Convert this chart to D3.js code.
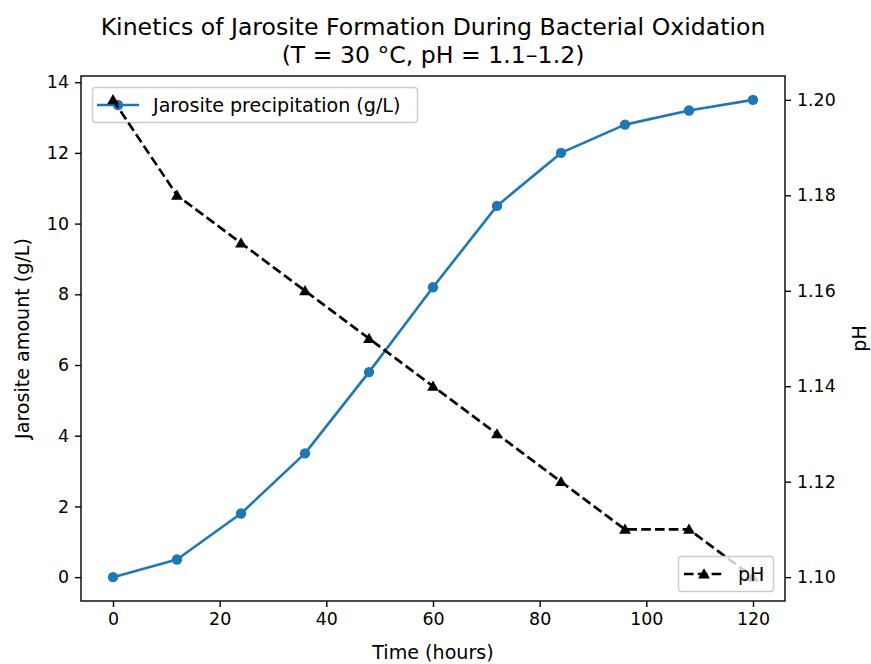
<!DOCTYPE html>
<html>
<head>
<meta charset="utf-8">
<script src="https://cdn.jsdelivr.net/npm/d3@7"></script>
<style>
  body { margin: 0; background: #fff; }
  svg { display: block; font-family: "DejaVu Sans", sans-serif; }
</style>
</head>
<body>
<svg id="chart" width="871" height="664"></svg>
<script>
const timeHours = [0, 12, 24, 36, 48, 60, 72, 84, 96, 108, 120];
const jarositeGL = [0, 0.5, 1.8, 3.5, 5.8, 8.2, 10.5, 12.0, 12.8, 13.2, 13.5];
const phValues = [1.20, 1.18, 1.17, 1.16, 1.15, 1.14, 1.13, 1.12, 1.11, 1.11, 1.10];
const xTicks = [0, 20, 40, 60, 80, 100, 120];
const yLeftTicks = [0, 2, 4, 6, 8, 10, 12, 14];
const yRightTicks = [1.10, 1.12, 1.14, 1.16, 1.18, 1.20];
const titleLines = ["Kinetics of Jarosite Formation During Bacterial Oxidation", "(T = 30 °C, pH = 1.1–1.2)"];

const svg = d3.select("#chart");
const L = 81, R = 785, T = 76, B = 601;
const fs = 17.4;   // tick labels
const fsL = 19.1;  // axis labels & legend
const fsT = 23.6;  // title

const x = d3.scaleLinear().domain([-6, 126]).range([L, R]);
const yL = d3.scaleLinear().domain([-0.675, 14.175]).range([B, T]);
const yR = d3.scaleLinear().domain([1.095, 1.205]).range([B, T]);

function styleAxis(g) {
  g.select(".domain").remove();
  g.selectAll(".tick line").attr("stroke", "#000").attr("stroke-width", 1.4);
  g.selectAll(".tick text").attr("fill", "#000").style("font-size", fs + "px").style("font-family", "DejaVu Sans");
}
svg.append("g").attr("transform", `translate(0,${B})`)
  .call(d3.axisBottom(x).tickValues(xTicks).tickSize(6).tickPadding(6).tickFormat(d3.format("d")))
  .call(styleAxis);
svg.append("g").attr("transform", `translate(${L},0)`)
  .call(d3.axisLeft(yL).tickValues(yLeftTicks).tickSize(6).tickPadding(6).tickFormat(d3.format("d")))
  .call(styleAxis);
svg.append("g").attr("transform", `translate(${R},0)`)
  .call(d3.axisRight(yR).tickValues(yRightTicks).tickSize(6).tickPadding(6).tickFormat(d3.format(".2f")))
  .call(styleAxis);

// Jarosite series (ax1)
const blue = "#1f77b4";
const lineJ = d3.line().x((d, i) => x(timeHours[i])).y(d => yL(d));
svg.append("path").datum(jarositeGL).attr("d", lineJ)
  .attr("fill", "none").attr("stroke", blue).attr("stroke-width", 2.6).attr("stroke-linejoin", "round");
svg.append("g").selectAll("circle").data(jarositeGL).join("circle")
  .attr("cx", (d, i) => x(timeHours[i])).attr("cy", d => yL(d)).attr("r", 5.2).attr("fill", blue);

// Legend 1 (ax1)
const lg1 = svg.append("g");
lg1.append("rect").attr("x", 92.5).attr("y", 87.5).attr("width", 325).attr("height", 35).attr("rx", 3)
  .attr("fill", "#fff").attr("fill-opacity", 0.8).attr("stroke", "#ccc").attr("stroke-width", 1.4);
lg1.append("line").attr("x1", 97).attr("x2", 139).attr("y1", 105).attr("y2", 105).attr("stroke", blue).attr("stroke-width", 2.6);
lg1.append("circle").attr("cx", 118).attr("cy", 105).attr("r", 5.2).attr("fill", blue);
lg1.append("text").attr("x", 153).attr("y", 105).attr("dy", "0.36em").style("font-size", fsL + "px").attr("fill", "#000")
  .text("Jarosite precipitation (g/L)");

// pH series (ax2)
const triangle = d3.symbol().type(d3.symbolTriangle).size(60);
const lineP = d3.line().x((d, i) => x(timeHours[i])).y(d => yR(d));
svg.append("path").datum(phValues).attr("d", lineP)
  .attr("fill", "none").attr("stroke", "#000").attr("stroke-width", 2.6).attr("stroke-dasharray", "9.6,4.2");
svg.append("g").selectAll("path").data(phValues).join("path")
  .attr("d", triangle).attr("transform", (d, i) => `translate(${x(timeHours[i])},${yR(d) + 1})`).attr("fill", "#000");

// Legend 2 (ax2)
const lg2 = svg.append("g");
lg2.append("rect").attr("x", 678.5).attr("y", 556.5).attr("width", 95).attr("height", 35).attr("rx", 3)
  .attr("fill", "#fff").attr("fill-opacity", 0.8).attr("stroke", "#ccc").attr("stroke-width", 1.4);
lg2.append("line").attr("x1", 684).attr("x2", 724).attr("y1", 574).attr("y2", 574).attr("stroke", "#000").attr("stroke-width", 2.6).attr("stroke-dasharray", "9.6,4.2");
lg2.append("path").attr("d", triangle).attr("transform", "translate(704,575)").attr("fill", "#000");
lg2.append("text").attr("x", 738).attr("y", 574).attr("dy", "0.36em").style("font-size", fsL + "px").attr("fill", "#000").text("pH");

// Frame
svg.append("rect").attr("x", L).attr("y", T).attr("width", R - L).attr("height", B - T)
  .attr("fill", "none").attr("stroke", "#000").attr("stroke-width", 1.4);

// Labels
svg.append("text").attr("x", (L + R) / 2).attr("y", 652).attr("dy", "0.36em").attr("text-anchor", "middle")
  .style("font-size", fsL + "px").text("Time (hours)");
svg.append("text").attr("transform", `translate(22,${(T + B) / 2}) rotate(-90)`).attr("dy", "0.36em").attr("text-anchor", "middle")
  .style("font-size", fsL + "px").text("Jarosite amount (g/L)");
svg.append("text").attr("transform", `translate(859,${(T + B) / 2}) rotate(-90)`).attr("dy", "0.36em").attr("text-anchor", "middle")
  .style("font-size", fsL + "px").text("pH");

// Title
svg.append("g").selectAll("text").data(titleLines).join("text")
  .attr("x", (L + R) / 2).attr("y", (d, i) => 35 + i * 27.5).attr("text-anchor", "middle")
  .style("font-size", fsT + "px").text(d => d);
</script>
</body>
</html>
